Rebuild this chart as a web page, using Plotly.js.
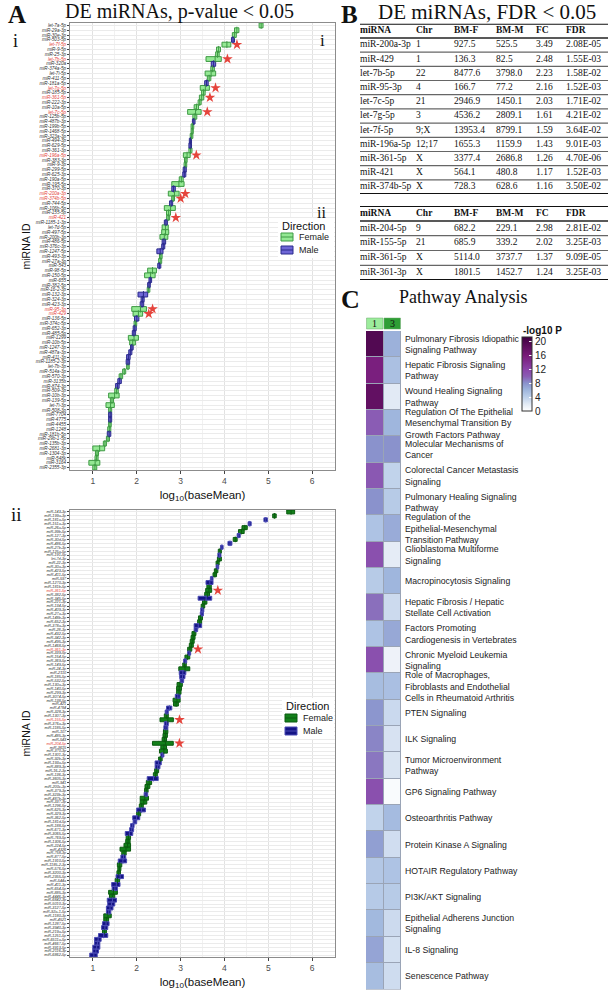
<!DOCTYPE html>
<html><head><meta charset="utf-8">
<script src="https://cdn.plot.ly/plotly-3.0.1.min.js"></script>
<style>html,body{margin:0;padding:0;background:#fff}#chart{width:616px;height:999px}</style>
</head><body><div id="chart"></div>
<script>
// ---------------- Panel A i : miRNA, log10 baseMean Female / Male ----------------
const miRNA_i = ['let-7a-5p','miR-29a-3p','miR-30e-3p','miR-503-5p','let-7f-5p','miR-9-5p','miR-25-3p','let-7b-5p','miR-320a','miR-374a-5p',
 'let-7i-5p','miR-411-5p','miR-181a-5p','let-7g-5p','miR-185-5p','miR-361-5p','miR-222-3p','miR-10a-5p','let-7c-5p','miR-125b-5p',
 'miR-487b-3p','miR-199b-5p','miR-1468-5p','miR-323a-3p','miR-494-3p','miR-629-5p','miR-361-3p','miR-196a-5p','miR-383-3p','miR-9-3p',
 'miR-299-5p','miR-625-3p','miR-190a-5p','miR-195-5p','miR-370-3p','miR-200a-3p','miR-374b-5p','miR-744-5p','miR-106b-5p','miR-155-5p',
 'miR-421','miR-1185-1-3p','let-7d-5p','miR-497-5p','miR-200b-3p','miR-486-5p','miR-376c-3p','miR-1247-5p','miR-493-3p','miR-27a-3p',
 'miR-543','miR-98-5p','miR-150-5p','miR-655','miR-382-5p','miR-16-2-3p','miR-132-3p','miR-324-3p','miR-423-3p','miR-95-3p',
 'miR-429','miR-136-5p','miR-374c-5p','miR-652-3p','miR-485-5p','miR-1299','miR-10b-5p','miR-1247-3p','miR-487a-3p','miR-411-3p',
 'miR-1185-2-3p','let-7b-3p','miR-514a-3p','miR-570-3p','miR-3135b','miR-874-3p','miR-509-3p','miR-10b-3p','miR-139-5p','let-7i-3p',
 'miR-508-3p','miR-7704','miR-4775','miR-4455','miR-1248','miR-181b-5p','miR-29b-1-5p','miR-135b-3p','miR-2681-3p','miR-1304-3p',
 'miR-548k','miR-3164','miR-2355-3p'];
const female_i = [4.88,4.33,4.27,4.16,4.145,3.91,3.88,3.928,3.70,3.77,
 3.80,3.69,3.55,3.657,3.56,3.529,3.47,3.41,3.469,3.37,
 3.27,3.30,3.29,3.28,3.20,3.19,3.26,3.219,3.15,3.14,
 3.06,3.05,3.06,3.08,2.80,2.967,2.862,2.75,2.88,2.77,
 2.751,2.63,2.72,2.73,2.71,2.58,2.57,2.46,2.58,2.57,
 2.48,2.45,2.42,2.28,2.25,2.30,2.03,2.10,2.08,2.222,
 2.135,1.95,2.00,1.92,1.90,2.04,1.97,1.86,1.82,1.77,
 1.76,1.83,1.75,1.68,1.57,1.52,1.58,1.60,1.47,1.49,
 1.43,1.36,1.36,1.42,1.41,1.33,1.38,1.31,1.27,1.13,
 1.12,1.16,1.09];
const male_i = [4.79,4.23,4.18,4.23,3.944,3.82,3.80,3.580,3.80,3.69,
 3.56,3.61,3.63,3.449,3.48,3.429,3.40,3.31,3.161,3.28,
 3.33,3.24,3.24,3.22,3.25,3.25,3.19,3.064,3.09,3.08,
 3.13,3.12,2.97,2.80,2.88,2.721,2.798,2.82,2.63,2.68,
 2.682,2.70,2.58,2.57,2.53,2.66,2.64,2.60,2.52,2.50,
 2.55,2.25,2.18,2.34,2.31,2.24,2.25,2.17,2.16,1.888,
 1.917,2.05,1.94,1.99,1.97,1.81,1.84,1.92,1.89,1.85,
 1.84,1.77,1.68,1.60,1.65,1.60,1.50,1.36,1.40,1.30,
 1.36,1.43,1.43,1.36,1.34,1.41,1.31,1.24,1.00,1.06,
 1.05,0.91,1.00];

// ---------------- Panel A ii ----------------
const miRNA_ii = ['miR-143-3p','miR-199a-3p','miR-181a-5p','miR-151a-3p','miR-26a-5p','miR-99b-5p','miR-127-3p','miR-30d-5p','miR-486-5p','miR-27b-3p',
 'miR-125a-5p','miR-191-5p','let-7d-3p','miR-22-3p','miR-30a-3p','miR-423-5p','miR-411-5p','miR-597','miR-1270-3p','miR-181b-5p',
 'miR-361-5p','miR-382-5p','miR-345-5p','miR-221-3p','miR-134-5p','miR-409-3p','miR-27a-3p','miR-148b-3p','miR-652-3p','miR-378a-3p',
 'miR-28-3p','miR-432-5p','miR-342-3p','miR-495-3p','miR-1468-5p','miR-361-3p','miR-339-5p','miR-154-5p','miR-369-5p','miR-149-5p',
 'miR-24-3p','miR-2110','miR-185-5p','miR-532-5p','miR-130a-3p','miR-140-5p','miR-299-3p','miR-3074-5p','miR-138-5p','miR-421',
 'miR-4784','miR-328-3p','miR-1307-3p','miR-155-5p','miR-376a-3p','miR-1185-5p','miR-107','miR-485-3p','miR-543','miR-204-5p',
 'miR-3615','miR-370-3p','miR-1301-3p','miR-92b-3p','miR-193a-5p','miR-889-3p','miR-16-2-3p','miR-136-3p','miR-3605-3p','miR-941',
 'miR-200c-3p','miR-379-3p','miR-323b-3p','miR-487b-3p','miR-337-3p','miR-1296-5p','miR-625-3p','miR-329-3p','miR-362-5p','miR-181d-5p',
 'miR-188-5p','miR-671-3p','miR-3065-5p','miR-769-5p','miR-1306-5p','miR-224-5p','miR-4326','miR-758-3p','miR-877-5p','miR-1910-5p',
 'miR-1185-2-3p','miR-576-5p','miR-3200-3p','miR-2355-5p','miR-544a','miR-411-3p','miR-654-5p','miR-885-3p','miR-4446-3p','miR-6842-3p',
 'miR-5010-3p','miR-3127-5p','miR-92a-1-5p','miR-1180-3p','miR-4521','miR-1287-5p','miR-3940-3p','miR-219a-5p','miR-1251-5p','miR-6511a-5p',
 'miR-4667-5p','miR-3913-5p','miR-2116-3p','miR-6862-5p'];
const female_ii = [5.60,5.18,4.90,4.54,4.52,4.45,4.29,4.29,4.08,3.91,
 3.93,3.85,3.93,3.88,3.81,3.85,3.82,3.68,3.58,3.70,
 3.709,3.66,3.40,3.60,3.55,3.46,3.45,3.50,3.48,3.31,
 3.31,3.35,3.33,3.31,3.29,3.256,3.16,3.21,3.07,3.13,
 3.21,2.97,2.98,2.99,3.04,3.02,3.01,2.88,2.99,2.95,
 2.68,2.65,2.72,2.836,2.63,2.62,2.71,2.70,2.68,2.834,
 2.68,2.70,2.55,2.58,2.42,2.42,2.50,2.47,2.24,2.34,
 2.30,2.26,2.17,2.27,2.23,2.15,2.00,2.09,1.91,1.92,
 1.86,1.84,1.74,1.86,1.85,1.86,1.86,1.76,1.64,1.58,
 1.66,1.64,1.63,1.53,1.61,1.43,1.44,1.56,1.50,1.33,
 1.34,1.31,1.31,1.42,1.36,1.22,1.20,1.31,1.13,1.04,
 1.04,1.00,1.00,0.93];
const male_ii = [5.42,5.10,4.98,4.61,4.40,4.32,4.36,4.20,4.17,3.97,
 3.86,3.92,3.84,3.81,3.87,3.77,3.74,3.74,3.74,3.60,
 3.573,3.55,3.71,3.50,3.47,3.53,3.52,3.41,3.39,3.48,
 3.39,3.26,3.24,3.22,3.20,3.162,3.23,3.10,3.14,3.05,
 2.96,3.12,3.10,3.07,2.92,2.91,2.91,2.99,2.83,2.84,
 2.80,2.72,2.63,2.531,2.72,2.71,2.61,2.60,2.58,2.360,
 2.55,2.52,2.62,2.50,2.56,2.53,2.41,2.38,2.49,2.22,
 2.19,2.18,2.25,2.08,2.08,2.06,2.20,2.00,2.07,2.00,
 1.94,1.93,1.91,1.76,1.75,1.71,1.62,1.66,1.75,1.77,
 1.56,1.57,1.55,1.70,1.51,1.62,1.56,1.36,1.38,1.54,
 1.50,1.46,1.41,1.25,1.25,1.37,1.34,1.22,1.34,1.19,
 1.16,1.16,1.13,1.10];

// ---------------- Panel B tables ----------------
const tableHeader = ['miRNA','Chr','BM-F','BM-M','FC','FDR'];
const tabI_miRNA = ['miR-200a-3p','miR-429','let-7b-5p','miR-95-3p','let-7c-5p','let-7g-5p','let-7f-5p','miR-196a-5p','miR-361-5p','miR-421','miR-374b-5p'];
const tabI_chr = ['1','1','22','4','21','3','9;X','12;17','X','X','X'];
const tabI_bmF = [927.5,136.3,8477.6,166.7,2946.9,4536.2,13953.4,1655.3,3377.4,564.1,728.3];
const tabI_bmM = [525.5,82.5,3798.0,77.2,1450.1,2809.1,8799.1,1159.9,2686.8,480.8,628.6];
const tabI_fc = [3.49,2.48,2.23,2.16,2.03,1.61,1.59,1.43,1.26,1.17,1.16];
const tabI_fdr = [2.08e-5,1.55e-3,1.58e-2,1.52e-3,1.71e-2,4.21e-2,3.64e-2,9.01e-3,4.70e-6,1.52e-3,3.50e-2];
const tabII_miRNA = ['miR-204-5p','miR-155-5p','miR-361-5p','miR-361-3p'];
const tabII_chr = ['9','21','X','X'];
const tabII_bmF = [682.2,685.9,5114.0,1801.5];
const tabII_bmM = [229.1,339.2,3737.7,1452.7];
const tabII_fc = [2.98,2.02,1.37,1.24];
const tabII_fdr = [2.81e-2,3.25e-3,9.09e-5,3.25e-3];

// ---------------- Panel C heatmap ----------------
const pathways = ['Pulmonary Fibrosis Idiopathic<br>Signaling Pathway','Hepatic Fibrosis Signaling<br>Pathway','Wound Healing Signaling<br>Pathway',
 'Regulation Of The Epithelial<br>Mesenchymal Transition By<br>Growth Factors Pathway','Molecular Mechanisms of<br>Cancer',
 'Colorectal Cancer Metastasis<br>Signaling','Pulmonary Healing Signaling<br>Pathway','Regulation of the<br>Epithelial-Mesenchymal<br>Transition Pathway',
 'Glioblastoma Multiforme<br>Signaling','Macropinocytosis Signaling','Hepatic Fibrosis / Hepatic<br>Stellate Cell Activation',
 'Factors Promoting<br>Cardiogenesis in Vertebrates','Chronic Myeloid Leukemia<br>Signaling',
 'Role of Macrophages,<br>Fibroblasts and Endothelial<br>Cells in Rheumatoid Arthritis','PTEN Signaling','ILK Signaling',
 'Tumor Microenvironment<br>Pathway','GP6 Signaling Pathway','Osteoarthritis Pathway','Protein Kinase A Signaling',
 'HOTAIR Regulatory Pathway','PI3K/AKT Signaling','Epithelial Adherens Junction<br>Signaling','IL-8 Signaling','Senescence Pathway'];
const clusterLabels = ['1','3'];
const cluster1 = [19.5,15.5,18.0,10.0,8.0,10.3,8.0,5.0,11.0,4.4,9.3,5.0,11.0,5.5,7.8,8.5,9.0,11.0,3.8,7.3,4.7,4.5,5.8,7.0,5.5];
const cluster3 = [6.3,5.2,2.0,6.0,8.0,3.8,4.4,6.6,1.8,6.0,3.2,6.8,1.2,5.3,3.3,2.6,2.5,0.4,5.6,3.0,5.0,4.4,3.2,2.8,3.1];

// ---------------- helpers ----------------
const W = 616, H = 999;
const px = v => v / W, py = v => 1 - v / H;
const SANS = 'Liberation Sans, Arial, sans-serif';
const SERIF = 'Liberation Serif, Times New Roman, serif';
const RED = '#e5443c';

function dumbbell(names, fem, mal, sigList, xa, ya, sty, boxPx) {
  const F = {y:[], x:[], base:[]}, M = {y:[], x:[], base:[]};
  const midF = {x:[], y:[]}, midM = {x:[], y:[]}, st = {x:[], y:[]};
  names.forEach((n, i) => {
    const lo = Math.min(fem[i], mal[i]), hi = Math.max(fem[i], mal[i]);
    const g = fem[i] >= mal[i] ? F : M, m = fem[i] >= mal[i] ? midF : midM;
    g.y.push(i + 1); g.x.push(hi - lo); g.base.push(lo);
    m.x.push(Math.log10((Math.pow(10, fem[i]) + Math.pow(10, mal[i])) / 2)); m.y.push(i + 1);
    if (sigList.includes(n)) { st.x.push(hi + 0.14); st.y.push(i + 1); }
  });
  const bar = (d, c, name) => ({type:'bar', orientation:'h', name, y:d.y, x:d.x, base:d.base, width:1,
    marker:{color:c.fill, line:{color:c.line, width:1}}, xaxis:xa, yaxis:ya, showlegend:false, hoverinfo:'skip'});
  const mid = (d, c) => ({type:'scatter', mode:'markers', x:d.x, y:d.y, xaxis:xa, yaxis:ya, showlegend:false, hoverinfo:'skip',
    marker:{symbol:'line-ns', size:boxPx, line:{color:c.line, width:1}}});
  return [bar(F, sty.F, 'Female'), bar(M, sty.M, 'Male'), mid(midF, sty.F), mid(midM, sty.M),
    {type:'scatter', mode:'markers', x:st.x, y:st.y, xaxis:xa, yaxis:ya, showlegend:false, hoverinfo:'skip',
     marker:{symbol:'star', size:8, color:RED, line:{width:0}}}];
}
const styI = {F:{fill:'#93e893', line:'#3f9a45'}, M:{fill:'#6e66d6', line:'#2b2b8c'}};
const styII = {F:{fill:'#13801a', line:'#0b5c10'}, M:{fill:'#141485', line:'#4a4ab4'}};

const traces = [];
traces.push(...dumbbell(miRNA_i, female_i, male_i, tabI_miRNA, 'x', 'y', styI, 5));
traces.push(...dumbbell(miRNA_ii, female_ii, male_ii, tabII_miRNA, 'x2', 'y2', styII, 4));

// tables as text traces
const fmtE = v => { const [m, e] = v.toExponential(2).split('e'); const n = Math.abs(+e); return m + 'E' + (+e < 0 ? '-' : '+') + (n < 10 ? '0' : '') + n; };
const colX = [362, 418, 456, 498, 538, 568].map(v => (v - 2 - 360) / 248);
function tableTraces(cols, xa, ya) {
  return cols.map((col, c) => ({type:'scatter', mode:'text', xaxis:xa, yaxis:ya, showlegend:false, hoverinfo:'skip',
    x: col.map(() => colX[c]), y: col.map((_, r) => r),
    text: col.map((t, r) => r === 0 ? '<b>' + t + '</b>' : t), textposition:'middle right',
    textfont:{family:SERIF, size:9.5, color:'#111'}}));
}
function tableCols(mi, chr, bf, bm, fc, fdr) {
  return [[tableHeader[0], ...mi], [tableHeader[1], ...chr], [tableHeader[2], ...bf.map(v => v.toFixed(1))],
    [tableHeader[3], ...bm.map(v => v.toFixed(1))], [tableHeader[4], ...fc.map(v => v.toFixed(2))], [tableHeader[5], ...fdr.map(fmtE)]];
}
traces.push(...tableTraces(tableCols(tabI_miRNA, tabI_chr, tabI_bmF, tabI_bmM, tabI_fc, tabI_fdr), 'x3', 'y3'));
traces.push(...tableTraces(tableCols(tabII_miRNA, tabII_chr, tabII_bmF, tabII_bmM, tabII_fc, tabII_fdr), 'x4', 'y4'));

// heatmap
const ZMAX = 21.3;
const cstops = [[0,'#ffffff'],[2,'#e2eaf5'],[4,'#bdd0ea'],[6,'#9fb6dd'],[8,'#8a92cc'],[10,'#8a5cb4'],[12,'#8a44a8'],[16,'#781a78'],[ZMAX,'#3f003f']];
traces.push({type:'heatmap', xaxis:'x5', yaxis:'y5', x:[0, 1], y:pathways.map((_, i) => i),
  z: pathways.map((_, i) => [cluster1[i], cluster3[i]]), zmin:0, zmax:ZMAX, xgap:1, ygap:1, hoverinfo:'skip',
  colorscale: cstops.map(([v, c]) => [v / ZMAX, c]),
  colorbar:{x:px(522), xanchor:'left', xpad:0, y:py(337), yanchor:'top', ypad:0, len:74, lenmode:'pixels', thickness:10,
    outlinewidth:1, outlinecolor:'#333', tickvals:[0,4,8,12,16,20], ticks:'inside', ticklen:3, tickcolor:'#fff',
    tickfont:{family:SANS, size:10, color:'#222'}}});

// ---------------- axes ----------------
function panelX(anchor) {
  return {domain:[px(70), px(335)], anchor, range:[0.48, 6.52], tickvals:[1,2,3,4,5,6], showgrid:true, gridcolor:'#e2e2e2',
    minor:{dtick:0.5, tick0:0, showgrid:true, gridcolor:'#f1f1f1'}, zeroline:false, showline:true, mirror:true,
    linecolor:'#8c8c8c', linewidth:1, ticks:'outside', ticklen:3, tickcolor:'#444', tickfont:{family:SANS, size:8.5, color:'#4d4d4d'},
    title:{text:'log<sub>10</sub>(baseMean)', font:{family:SANS, size:11.5, color:'#111'}, standoff:5}, fixedrange:true};
}
function panelY(anchor, names, sig, top, bot, fs) {
  return {domain:[py(bot), py(top)], anchor, range:[names.length + 0.5, 0.5], tickmode:'array',
    tickvals:names.map((_, i) => i + 1), ticktext:names.map(n => sig.includes(n) ? '<span style="color:' + RED + '">' + n + '</span>' : n),
    tickfont:{family:SANS, size:fs, style:'italic', color:'#333'}, ticks:'outside', ticklen:2, tickcolor:'#444',
    showgrid:true, gridcolor:'#ebebeb', gridwidth:1, zeroline:false, showline:true, mirror:true, linecolor:'#8c8c8c', fixedrange:true};
}

const shapes = [];
function tableRules(xa, ya, n) {
  shapes.push({type:'line', xref:xa + ' domain', yref:ya, x0:0, x1:1, y0:-0.5, y1:-0.5, line:{color:'#111', width:2}});
  shapes.push({type:'line', xref:xa + ' domain', yref:ya, x0:0, x1:1, y0:0.5, y1:0.5, line:{color:'#222', width:1.5}});
  for (let r = 1; r < n; r++) shapes.push({type:'line', xref:xa + ' domain', yref:ya, x0:0, x1:1, y0:r + 0.5, y1:r + 0.5, line:{color:'#666', width:1.2}});
  shapes.push({type:'line', xref:xa + ' domain', yref:ya, x0:0, x1:1, y0:n + 0.5, y1:n + 0.5, line:{color:'#111', width:2}});
}
tableRules('x3', 'y3', tabI_miRNA.length);
tableRules('x4', 'y4', tabII_miRNA.length);
// heatmap cell borders
shapes.push({type:'rect', xref:'x5', yref:'y5', x0:-0.5, x1:1.5, y0:-0.5, y1:pathways.length - 0.5, fillcolor:'#9aa4b6', line:{color:'#9aa4b6', width:1}, layer:'below'});
// cluster header boxes
const clusterColors = ['#9cec9c', '#2f9e36'];
clusterLabels.forEach((c, i) => shapes.push({type:'rect', xref:'x5', yref:'paper', x0:i - 0.47, x1:i + 0.47, y0:py(329), y1:py(318),
  fillcolor:clusterColors[i], line:{color:'#6aa86a', width:0.5}}));

// manual legends
const annotations = [];
function legend(x, yTitle, yF, yM, sty) {
  shapes.push({type:'rect', xref:'paper', yref:'paper', x0:px(x - 2), x1:px(334), y0:py(yM + 8), y1:py(yTitle - 8), fillcolor:'#fff', line:{width:0}});
  annotations.push({xref:'paper', yref:'paper', x:px(x), y:py(yTitle), xanchor:'left', yanchor:'middle', showarrow:false, text:'Direction', font:{family:SANS, size:11, color:'#111'}});
  [[yF, sty.F, 'Female'], [yM, sty.M, 'Male']].forEach(([yy, c, t]) => {
    shapes.push({type:'rect', xref:'paper', yref:'paper', x0:px(x + 1), x1:px(x + 13), y0:py(yy + 4), y1:py(yy - 4), fillcolor:c.fill, line:{color:c.line, width:1}});
    shapes.push({type:'line', xref:'paper', yref:'paper', x0:px(x + 1), x1:px(x + 13), y0:py(yy), y1:py(yy), line:{color:c.line, width:1}});
    annotations.push({xref:'paper', yref:'paper', x:px(x + 17), y:py(yy), xanchor:'left', yanchor:'middle', showarrow:false, text:t, font:{family:SANS, size:9, color:'#222'}});
  });
}
legend(280, 226, 237, 250, styI);
legend(284, 706, 718, 731, styII);

clusterLabels.forEach((c, i) => annotations.push({xref:'x5', yref:'paper', x:i, y:py(323.5), xanchor:'center', yanchor:'middle', showarrow:false, text:c, font:{family:SERIF, size:10, color:'#111'}}));

const lab = (x, y, t, size, bold, font, angle, anchor) => annotations.push({xref:'paper', yref:'paper', x:px(x), y:py(y), xanchor:anchor || 'center', yanchor:'middle',
  showarrow:false, textangle:angle || 0, text:bold ? '<b>' + t + '</b>' : t, font:{family:font || SERIF, size, color:'#111'}});
lab(17, 14, 'A', 25, true);
lab(15, 41, 'i', 18, false);
lab(16, 514, 'ii', 19, false);
lab(179, 12, 'DE miRNAs, p-value &lt; 0.05', 20, false);
lab(349, 15, 'B', 25, true);
lab(487, 12, 'DE miRNAs, FDR &lt; 0.05', 21, false);
lab(322, 41, 'i', 17, false);
lab(321, 212, 'ii', 16, false);
lab(350, 299, 'C', 26, true);
lab(463, 297, 'Pathway Analysis', 18, false);
lab(25, 246.5, 'miRNA ID', 10.5, false, SANS, -90);
lab(25, 733.5, 'miRNA ID', 10.5, false, SANS, -90);
lab(521, 330, '<b>-log10 P</b>', 10, false, SANS, 0, 'left');

const layout = {
  width:W, height:H, margin:{l:0, r:0, t:0, b:0}, paper_bgcolor:'#fff', plot_bgcolor:'#fff', barmode:'overlay', showlegend:false,
  font:{family:SANS},
  xaxis:panelX('y'), yaxis:panelY('x', miRNA_i, tabI_miRNA, 23, 470, 4.6),
  xaxis2:panelX('y2'), yaxis2:panelY('x2', miRNA_ii, tabII_miRNA, 510, 957, 3.8),
  xaxis3:{domain:[px(360), px(608)], range:[0, 1], visible:false, anchor:'y3', fixedrange:true},
  yaxis3:{domain:[py(194.1), py(23.7)], range:[11.5, -0.5], visible:false, anchor:'x3', fixedrange:true},
  xaxis4:{domain:[px(360), px(608)], range:[0, 1], visible:false, anchor:'y4', fixedrange:true},
  yaxis4:{domain:[py(280.1), py(206.1)], range:[4.5, -0.5], visible:false, anchor:'x4', fixedrange:true},
  xaxis5:{domain:[px(366), px(401)], range:[-0.5, 1.5], visible:false, anchor:'y5', fixedrange:true},
  yaxis5:{domain:[py(989.5), py(331)], range:[pathways.length - 0.5, -0.5], anchor:'x5', side:'right', tickmode:'array',
    tickvals:pathways.map((_, i) => i), ticktext:pathways, ticks:'', showgrid:false, zeroline:false, showline:false,
    ticklabelstandoff:3, tickfont:{family:SANS, size:8.7, color:'#222'}, fixedrange:true},
  shapes, annotations
};
Plotly.newPlot('chart', traces, layout, {displayModeBar:false, staticPlot:true});
</script></body></html>
